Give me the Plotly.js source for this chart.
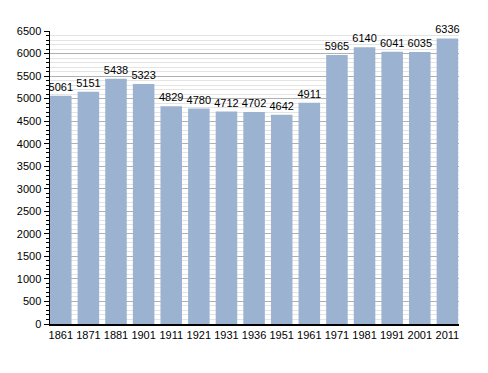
<!DOCTYPE html>
<html><head><meta charset="utf-8">
<script src="https://cdn.plot.ly/plotly-3.0.1.min.js"></script>
<style>html,body{margin:0;padding:0;background:#fff}#c{width:488px;height:373px}</style>
</head><body><div id="c"></div>
<script>
const years = ["1861","1871","1881","1901","1911","1921","1931","1936","1951","1961","1971","1981","1991","2001","2011"];
const population = [5061,5151,5438,5323,4829,4780,4712,4702,4642,4911,5965,6140,6041,6035,6336];
const yTicks = [0,500,1000,1500,2000,2500,3000,3500,4000,4500,5000,5500,6000,6500];

Plotly.newPlot('c', [{
  type: 'bar',
  x: years.map((_, i) => i),
  y: population,
  text: population.map(String),
  textposition: 'outside',
  constraintext: 'none',
  cliponaxis: false,
  textfont: {family: 'Liberation Sans, Arial, sans-serif', size: 11, color: '#000'},
  marker: {color: '#9bb3d1', line: {width: 0}},
  hoverinfo: 'none'
}], {
  width: 488, height: 373,
  margin: {l: 50, r: 29, t: 31, b: 49},
  paper_bgcolor: '#fff', plot_bgcolor: '#fff',
  bargap: 0.22,
  showlegend: false,
  font: {family: 'Liberation Sans, Arial, sans-serif', size: 11, color: '#000'},
  xaxis: {
    range: [-0.39, 14.42],
    tickmode: 'array', tickvals: years.map((_, i) => i), ticktext: years,
    showgrid: false, zeroline: false,
    showline: true, linecolor: '#000', linewidth: 1.5,
    ticks: '', tickfont: {size: 11}
  },
  yaxis: {
    range: [0, 6500],
    tickmode: 'array', tickvals: yTicks, ticktext: yTicks.map(String),
    showgrid: true, gridcolor: '#b0b0b0', gridwidth: 1,
    zeroline: false,
    showline: true, linecolor: '#000', linewidth: 1.5,
    ticks: 'outside', ticklen: 5, tickcolor: '#000', tickwidth: 1,
    minor: {dtick: 100, showgrid: true, gridcolor: '#e4e4e4', gridwidth: 1, ticks: 'outside', ticklen: 3, tickcolor: '#000'},
    tickfont: {size: 11}
  }
}, {staticPlot: true, displayModeBar: false});
</script></body></html>
